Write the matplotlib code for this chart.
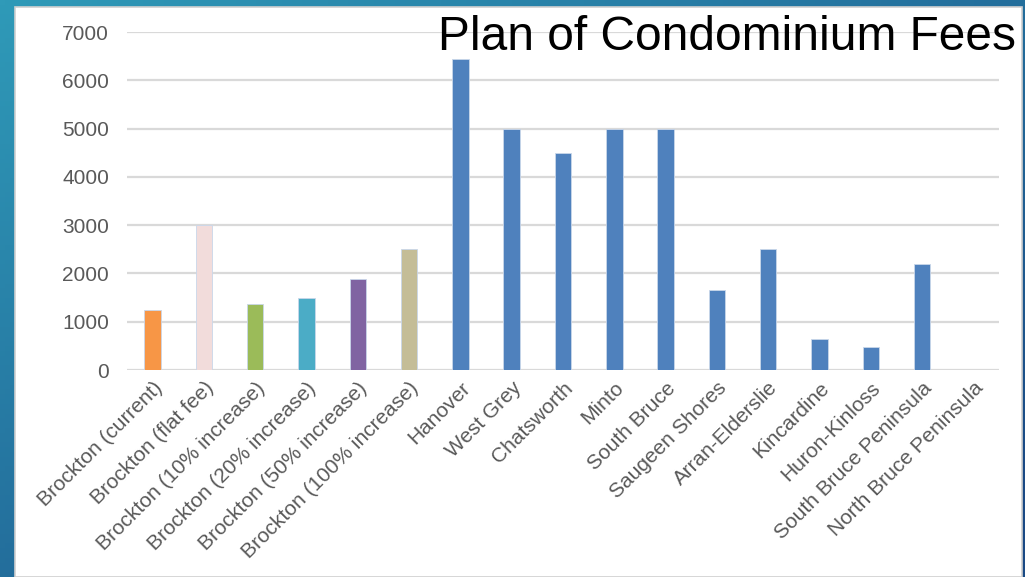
import numpy as np
import matplotlib
matplotlib.use("Agg")
import matplotlib.pyplot as plt
from matplotlib.patches import Rectangle

categories = ["Brockton (current)", "Brockton (flat fee)", "Brockton (10% increase)",
              "Brockton (20% increase)", "Brockton (50% increase)", "Brockton (100% increase)",
              "Hanover", "West Grey", "Chatsworth", "Minto", "South Bruce", "Saugeen Shores",
              "Arran-Elderslie", "Kincardine", "Huron-Kinloss", "South Bruce Peninsula",
              "North Bruce Peninsula"]
fees = [1250, 3000, 1375, 1500, 1875, 2500, 6450, 5000, 4500, 5000, 5000, 1650,
        2500, 650, 480, 2200, 0]
colors = ["#F79646", "#F2DCDB", "#9BBB59", "#4BACC6", "#8064A2", "#C4BD97"] + ["#4F81BD"] * 11
yticks = [0, 1000, 2000, 3000, 4000, 5000, 6000, 7000]
title = "Plan of Condominium Fees"

W, H = 1025, 577
fig = plt.figure(figsize=(W / 100, H / 100), dpi=100)

# gradient slide background
bg = fig.add_axes([0, 0, 1, 1])
xx = np.linspace(0, 1, 200)
yy = np.linspace(0, 1, 120)
X, Y = np.meshgrid(xx, yy)
t = np.clip(0.55 * X + 0.55 * Y, 0, 1)
c0 = np.array([0x2F, 0x9A, 0xB8]) / 255
c1 = np.array([0x1A, 0x4A, 0x85]) / 255
img = c0[None, None, :] * (1 - t[..., None]) + c1[None, None, :] * t[..., None]
bg.imshow(img, extent=[0, 1, 0, 1], aspect="auto", origin="upper")
bg.set_xlim(0, 1)
bg.set_ylim(0, 1)
bg.axis("off")

# white panel
bg.add_patch(Rectangle((15 / W, 0), (1022 - 15) / W, (H - 7) / H,
                       facecolor="white", edgecolor="#D0D0D0", linewidth=1.2, zorder=3))

# chart axes
x0, x1 = 127, 999
ytop, ybot = 32, 370
ax = fig.add_axes([x0 / W, 1 - ybot / H, (x1 - x0) / W, (ybot - ytop) / H])
ax.set_facecolor("none")
xpos = np.arange(len(categories))
ax.bar(xpos, fees, width=0.32, color=colors, edgecolor="#C9D7EA", linewidth=0.6, zorder=3)
ax.set_xlim(-0.5, len(categories) - 0.5)
ax.set_ylim(0, 7000)
ax.set_yticks(yticks)
ax.set_yticklabels([str(v) for v in yticks], fontsize=15, color="#595959", family="Liberation Sans")
ax.set_xticks(xpos)
ax.set_xticklabels(categories, rotation=45, ha="right", rotation_mode="anchor",
                   fontsize=15, color="#595959", family="Liberation Sans")
ax.tick_params(axis="y", length=0, pad=13)
ax.tick_params(axis="x", length=0, pad=6)
ax.grid(axis="y", color="#D9D9D9", linewidth=1.6, zorder=0)
for s in ax.spines.values():
    s.set_visible(False)

fig.text(438 / W, 1 - 50 / H, title, fontsize=34.5, color="black",
         family="Liberation Sans", ha="left", va="baseline")

fig.savefig("out.png", dpi=100)
